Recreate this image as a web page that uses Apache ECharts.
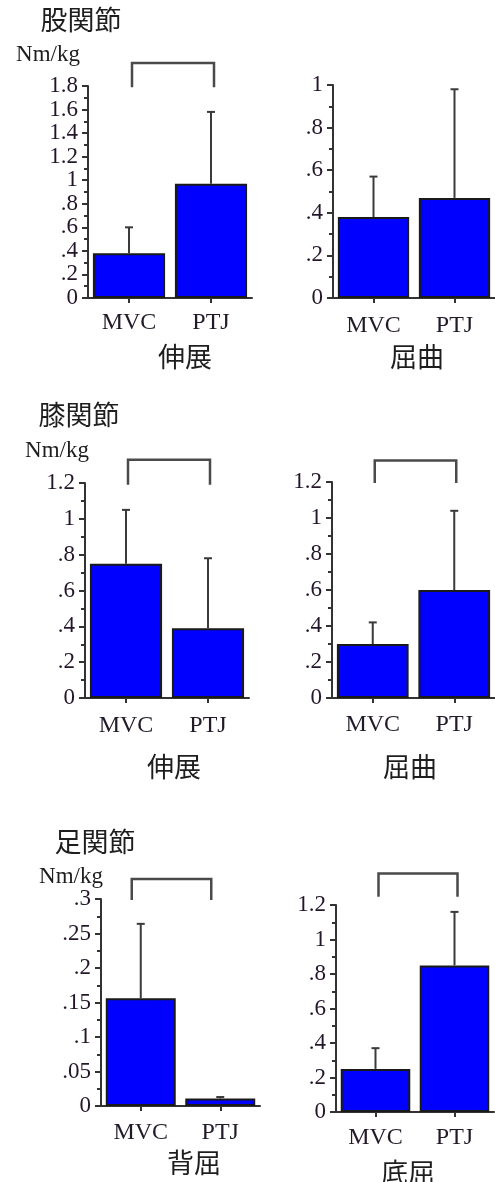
<!DOCTYPE html>
<html>
<head>
<meta charset="utf-8">
<style>
  html, body { margin: 0; padding: 0; background: #ffffff; }
  #chart { width: 495px; height: 1182px; }
</style>
<script src="https://cdn.jsdelivr.net/npm/echarts@6/dist/echarts.min.js"></script>
</head>
<body>
<div id="chart"></div>
<script>
// Joint moments (Nm/kg), mean and SD for MVC vs PTJ
const categories = ['MVC', 'PTJ'];

const hipExtMean = [0.38, 0.97];
const hipExtSD = [0.22, 0.61];
const hipFlexMean = [0.38, 0.47];
const hipFlexSD = [0.19, 0.51];

const kneeExtMean = [0.75, 0.39];
const kneeExtSD = [0.30, 0.39];
const kneeFlexMean = [0.30, 0.60];
const kneeFlexSD = [0.12, 0.44];

const ankleDorsiMean = [0.156, 0.011];
const ankleDorsiSD = [0.108, 0.002];
const anklePlantarMean = [0.25, 0.85];
const anklePlantarSD = [0.12, 0.31];

// Y-axis ranges: [max, interval]
const hipExtAxis = [1.8, 0.2];
const hipFlexAxis = [1.0, 0.2];
const kneeExtAxis = [1.2, 0.2];
const kneeFlexAxis = [1.2, 0.2];
const ankleDorsiAxis = [0.3, 0.05];
const anklePlantarAxis = [1.2, 0.2];

// Significance brackets between MVC and PTJ: [leg bottom, bar top] in axis units
const hipExtBracket = [1.79, 1.995];
const kneeExtBracket = [1.19, 1.33];
const kneeFlexBracket = [1.195, 1.32];
const ankleDorsiBracket = [0.2985, 0.329];
const anklePlantarBracket = [1.248, 1.383];

const jointTitles = ['股関節', '膝関節', '足関節'];
const unitLabel = 'Nm/kg';
const motionLabels = ['伸展', '屈曲', '伸展', '屈曲', '背屈', '底屈'];

const SERIF = '"Liberation Serif", "Times New Roman", serif';
const CJK = '"Noto Sans CJK JP", "Noto Sans CJK SC", sans-serif';
const AXIS_COLOR = '#333333';
const LABEL_COLOR = '#24162a';

const panels = [
  { mean: hipExtMean, sd: hipExtSD, axis: hipExtAxis, bracket: hipExtBracket, bracketShift: 3,
    grid: { left: 88, top: 86, width: 164, height: 212 }, catMargin: 13 },
  { mean: hipFlexMean, sd: hipFlexSD, axis: hipFlexAxis, bracket: null, bracketShift: 0,
    grid: { left: 333, top: 85, width: 166, height: 213 }, catMargin: 16 },
  { mean: kneeExtMean, sd: kneeExtSD, axis: kneeExtAxis, bracket: kneeExtBracket, bracketShift: 2,
    grid: { left: 85, top: 483, width: 164, height: 215 }, catMargin: 16 },
  { mean: kneeFlexMean, sd: kneeFlexSD, axis: kneeFlexAxis, bracket: kneeFlexBracket, bracketShift: 2,
    grid: { left: 332, top: 482, width: 164, height: 216 }, catMargin: 15 },
  { mean: ankleDorsiMean, sd: ankleDorsiSD, axis: ankleDorsiAxis, bracket: ankleDorsiBracket, bracketShift: -9,
    grid: { left: 101, top: 899, width: 159, height: 207 }, catMargin: 15 },
  { mean: anklePlantarMean, sd: anklePlantarSD, axis: anklePlantarAxis, bracket: anklePlantarBracket, bracketShift: 3,
    grid: { left: 336, top: 905, width: 158, height: 207 }, catMargin: 14 }
];

function tickText(v) {
  if (v === 0) return '0';
  return String(+v.toFixed(3)).replace(/^0\./, '.');
}

const grids = [], xAxes = [], yAxes = [], series = [];

panels.forEach((p, i) => {
  grids.push(Object.assign({ containLabel: false }, p.grid));

  xAxes.push({
    type: 'category', gridIndex: i, data: categories,
    axisLine: { show: true, lineStyle: { color: AXIS_COLOR, width: 2 } },
    axisTick: { show: true, alignWithLabel: true, length: 5, lineStyle: { color: AXIS_COLOR, width: 2 } },
    axisLabel: { margin: p.catMargin, fontFamily: SERIF, fontSize: 24, color: '#221a28' },
    splitLine: { show: false }
  });

  yAxes.push({
    type: 'value', gridIndex: i, min: 0, max: p.axis[0], interval: p.axis[1],
    axisLine: { show: true, lineStyle: { color: AXIS_COLOR, width: 2 } },
    axisTick: { show: true, length: 6, lineStyle: { color: AXIS_COLOR, width: 2 } },
    minorTick: { show: true, splitNumber: 2, length: 4, lineStyle: { color: AXIS_COLOR, width: 2 } },
    axisLabel: { margin: 10, fontFamily: SERIF, fontSize: 23, color: LABEL_COLOR, formatter: tickText },
    splitLine: { show: false }
  });

  series.push({
    type: 'bar', xAxisIndex: i, yAxisIndex: i, data: p.mean,
    barCategoryGap: '12%',
    itemStyle: { color: '#0000ff', borderColor: '#1a1a1a', borderWidth: 2 },
    z: 2
  });

  // SD error bars drawn upward from each bar top
  series.push({
    type: 'custom', xAxisIndex: i, yAxisIndex: i, z: 3, clip: false,
    data: p.mean.map((m, k) => [k, m, m + p.sd[k]]),
    renderItem: (params, api) => {
      const base = api.coord([api.value(0), api.value(1)]);
      const top = api.coord([api.value(0), api.value(2)]);
      const st = { stroke: '#3a3a3a', lineWidth: 2 };
      return {
        type: 'group',
        children: [
          { type: 'line', shape: { x1: base[0], y1: base[1], x2: top[0], y2: top[1] }, style: st },
          { type: 'line', shape: { x1: top[0] - 4, y1: top[1], x2: top[0] + 4, y2: top[1] }, style: st }
        ]
      };
    }
  });

  if (p.bracket) {
    const dx = p.bracketShift;
    series.push({
      type: 'custom', xAxisIndex: i, yAxisIndex: i, z: 3, clip: false,
      data: [[0, 1, p.bracket[0], p.bracket[1]]],
      renderItem: (params, api) => {
        const aLow = api.coord([api.value(0), api.value(2)]);
        const aHigh = api.coord([api.value(0), api.value(3)]);
        const bLow = api.coord([api.value(1), api.value(2)]);
        const bHigh = api.coord([api.value(1), api.value(3)]);
        return {
          type: 'polyline',
          shape: { points: [[aLow[0] + dx, aLow[1]], [aHigh[0] + dx, aHigh[1]], [bHigh[0] + dx, bHigh[1]], [bLow[0] + dx, bLow[1]]] },
          style: { stroke: '#4a4a4a', lineWidth: 2.5, fill: null }
        };
      }
    });
  }
});

function text(str, x, y, font, size, align) {
  return {
    type: 'text', x: x, y: y,
    style: { text: str, fontFamily: font, fontSize: size, fill: '#1e1e1e',
             align: align || 'center', verticalAlign: 'middle' }
  };
}

const graphics = [
  text(jointTitles[0], 81, 20, CJK, 27),
  text(unitLabel, 48, 55, SERIF, 23),
  text(motionLabels[0], 185, 357, CJK, 27),
  text(motionLabels[1], 417, 357, CJK, 27),

  text(jointTitles[1], 79, 415, CJK, 27),
  text(unitLabel, 57, 451, SERIF, 23),
  text(motionLabels[2], 174, 767, CJK, 27),
  text(motionLabels[3], 410, 767, CJK, 27),

  text(jointTitles[2], 95, 842, CJK, 27),
  text(unitLabel, 71, 877, SERIF, 23),
  text(motionLabels[4], 194, 1163, CJK, 27),
  text(motionLabels[5], 408, 1173, CJK, 27)
];

const chart = echarts.init(document.getElementById('chart'), null, { renderer: 'canvas' });
chart.setOption({
  animation: false,
  backgroundColor: '#ffffff',
  grid: grids,
  xAxis: xAxes,
  yAxis: yAxes,
  series: series,
  graphic: graphics
});
</script>
</body>
</html>
